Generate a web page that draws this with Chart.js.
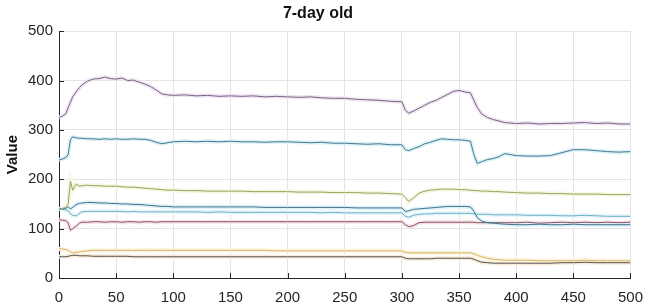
<!DOCTYPE html>
<html>
<head>
<meta charset="utf-8">
<script src="https://cdn.jsdelivr.net/npm/chart.js@4"></script>
<style>
  body { margin: 0; background: #fff; }
  #wrap { width: 654px; height: 308px; }
</style>
</head>
<body>
<div id="wrap"><canvas id="chart"></canvas></div>
<script>
// sample positions (x axis)
const xs = [0, 3, 6, 8, 10, 12, 15, 18, 20,
    25, 30, 35, 40, 45, 50, 55, 60, 65, 70, 75, 80, 85, 90, 95, 100,
    110, 120, 130, 140, 150, 160, 170, 180, 190, 200, 210, 220, 230, 240, 250, 260, 270, 280, 290, 300,
    303, 306, 310, 315, 320, 325, 330, 335, 340, 345, 350, 355, 360, 363, 366, 370, 375, 380, 385, 390,
    400, 410, 420, 430, 440, 450, 460, 470, 480, 490, 500];

const purpleVals = [325, 328, 333, 345, 356, 367, 377, 386, 391,
    399, 403, 404, 407, 404, 403, 405, 400, 401, 397, 393, 388, 381, 373, 371, 370,
    371, 369, 370, 368, 369, 368, 369, 367, 368, 367, 366, 367, 365, 364, 364, 362, 361, 360, 358, 357,
    340, 334, 338, 344, 350, 356, 360, 366, 372, 378, 380, 377, 375, 360, 345, 332, 325, 321, 318, 315,
    313, 314, 312, 313, 313, 314, 315, 313, 314, 312, 312];

const blueVals = [239, 241, 244, 250, 280, 286, 284, 283, 283,
    282, 282, 281, 282, 281, 282, 281, 281, 282, 281, 281, 279, 275, 272, 274, 276,
    277, 276, 277, 276, 277, 276, 276, 275, 276, 276, 275, 274, 275, 273, 273, 272, 271, 272, 270, 270,
    260, 258, 262, 266, 272, 275, 279, 282, 281, 280, 280, 279, 277, 250, 232, 236, 240, 242, 246, 252,
    248, 247, 247, 248, 254, 260, 260, 258, 256, 255, 256];

const greenVals = [140, 141, 143, 150, 196, 178, 190, 186, 187,
    188, 187, 187, 186, 186, 186, 185, 184, 184, 183, 182, 181, 180, 179, 178, 178,
    177, 177, 176, 176, 176, 176, 175, 175, 175, 175, 174, 174, 174, 173, 173, 173, 172, 172, 171, 170,
    163, 155, 162, 172, 176, 178, 179, 180, 180, 180, 179, 179, 178, 177, 177, 176, 176, 175, 175, 174,
    173, 172, 172, 171, 171, 170, 170, 170, 169, 169, 169];

const darkBlueVals = [140, 140, 141, 144, 140, 143, 149, 151, 152,
    153, 153, 152, 152, 151, 151, 150, 150, 149, 149, 148, 147, 146, 145, 145, 144,
    144, 144, 144, 144, 144, 144, 144, 143, 143, 143, 143, 143, 143, 143, 143, 142, 142, 142, 142, 142,
    135, 136, 139, 140, 141, 142, 143, 144, 145, 145, 145, 145, 144, 135, 122, 115, 112, 111, 110, 109,
    108, 108, 109, 108, 108, 109, 108, 108, 108, 108, 108];

const cyanVals = [140, 139, 138, 136, 130, 127, 126, 131, 134,
    135, 135, 135, 135, 135, 135, 135, 134, 135, 134, 134, 134, 134, 134, 134, 134,
    134, 134, 133, 134, 133, 133, 133, 133, 133, 133, 133, 133, 132, 133, 132, 132, 132, 132, 132, 132,
    125, 123, 127, 129, 130, 130, 131, 131, 131, 131, 131, 131, 131, 130, 129, 129, 129, 128, 128, 128,
    128, 127, 127, 127, 126, 126, 127, 126, 125, 125, 125];

const redVals = [118, 117, 116, 112, 97, 100, 105, 111, 113,
    113, 114, 114, 113, 114, 114, 113, 114, 114, 113, 114, 114, 113, 114, 114, 114,
    114, 114, 114, 114, 114, 114, 114, 114, 114, 114, 114, 114, 114, 114, 114, 114, 114, 114, 114, 114,
    108, 104, 106, 112, 113, 113, 113, 113, 113, 113, 113, 113, 113, 113, 112, 112, 112, 112, 112, 112,
    112, 113, 111, 112, 113, 112, 113, 112, 113, 112, 113];

const yellowVals = [59, 59, 58, 56, 53, 51, 52, 53, 54,
    55, 56, 56, 56, 56, 56, 56, 56, 56, 56, 56, 56, 56, 56, 56, 56,
    56, 56, 56, 56, 56, 56, 56, 56, 55, 55, 55, 55, 55, 55, 55, 55, 55, 55, 55, 55,
    52, 51, 51, 51, 51, 51, 51, 51, 51, 51, 51, 51, 51, 49, 46, 43, 40, 38, 37, 36,
    36, 36, 35, 35, 35, 35, 36, 35, 35, 35, 35];

const brownVals = [43, 43, 43, 44, 45, 46, 46, 45, 45,
    45, 44, 44, 44, 44, 44, 44, 44, 43, 43, 43, 43, 43, 43, 43, 43,
    43, 43, 43, 43, 43, 43, 43, 43, 43, 43, 43, 43, 43, 43, 43, 43, 43, 43, 43, 43,
    40, 39, 39, 39, 39, 39, 40, 40, 40, 40, 40, 40, 40, 38, 35, 32, 31, 30, 30, 30,
    30, 30, 30, 30, 31, 31, 32, 31, 31, 31, 31];

const xTicks = [0, 50, 100, 150, 200, 250, 300, 350, 400, 450, 500];
const yTicks = [0, 100, 200, 300, 400, 500];

const seriesList = [
    { name: "s1", vals: purpleVals,   line: "#7a6482", halo: "#efe5f3" },
    { name: "s2", vals: blueVals,     line: "#44788c", halo: "#dcf1f8" },
    { name: "s3", vals: greenVals,    line: "#9aa35e", halo: "#f2f7df" },
    { name: "s4", vals: darkBlueVals, line: "#41728a", halo: "#dcf1f8" },
    { name: "s5", vals: cyanVals,     line: "#72b0c4", halo: "#e3f5fb" },
    { name: "s6", vals: redVals,      line: "#8e5060", halo: "#f5e5e9" },
    { name: "s7", vals: yellowVals,   line: "#d6b46e", halo: "#fcf3da" },
    { name: "s8", vals: brownVals,    line: "#5a5048", halo: "#f7ecdc" }
];

function toPoints(vals) {
    return xs.map((x, i) => ({ x: x, y: vals[i] }));
}

const datasets = [];
seriesList.forEach(s => {
    datasets.push({ label: s.name, data: toPoints(s.vals), borderColor: s.line,
        borderWidth: 1, pointRadius: 0, tension: 0, order: 1 });
    datasets.push({ label: s.name + "-halo", data: toPoints(s.vals), borderColor: s.halo,
        borderWidth: 4, pointRadius: 0, tension: 0, order: 2 });
});

// MATLAB style inward ticks
const innerTicks = {
    id: "innerTicks",
    afterDatasetsDraw(chart) {
        const ctx = chart.ctx;
        const area = chart.chartArea;
        const sx = chart.scales.x, sy = chart.scales.y;
        ctx.save();
        ctx.strokeStyle = "#262626";
        ctx.lineWidth = 1;
        ctx.beginPath();
        xTicks.forEach(v => {
            const px = Math.round(sx.getPixelForValue(v)) + 0.5;
            ctx.moveTo(px, area.bottom);
            ctx.lineTo(px, area.bottom - 5);
        });
        yTicks.forEach(v => {
            const py = Math.round(sy.getPixelForValue(v)) + 0.5;
            ctx.moveTo(area.left, py);
            ctx.lineTo(area.left + 5, py);
        });
        ctx.stroke();
        ctx.restore();
    }
};

new Chart(document.getElementById("chart"), {
    type: "line",
    data: { datasets: datasets },
    options: {
        responsive: true,
        maintainAspectRatio: false,
        animation: false,
        layout: { padding: { left: 4, right: 22, top: 0, bottom: 0 } },
        plugins: {
            legend: { display: false },
            tooltip: { enabled: false },
            title: {
                display: true,
                text: "7-day old",
                color: "#111",
                font: { family: "Liberation Sans", size: 16, weight: "bold" },
                padding: { top: 4, bottom: 8 }
            }
        },
        scales: {
            x: {
                type: "linear",
                min: 0, max: 500,
                afterBuildTicks: scale => { scale.ticks = xTicks.map(v => ({ value: v })); },
                grid: { color: "#e4e4e4", drawTicks: false },
                border: { color: "#262626" },
                ticks: { color: "#262626", padding: 11, font: { family: "Liberation Sans", size: 15 } },
                afterFit: scale => { scale.height = 30; }
            },
            y: {
                min: 0, max: 500,
                afterBuildTicks: scale => { scale.ticks = yTicks.map(v => ({ value: v })); },
                grid: { color: "#e4e4e4", drawTicks: false },
                border: { color: "#262626" },
                ticks: { color: "#262626", padding: 6, font: { family: "Liberation Sans", size: 15 } },
                title: {
                    display: true,
                    text: "Value",
                    color: "#111",
                    font: { family: "Liberation Sans", size: 15, weight: "bold" },
                    padding: { top: 0, bottom: 1 }
                },
                afterFit: scale => { scale.width = 55; }
            }
        }
    },
    plugins: [innerTicks]
});
</script>
</body>
</html>
